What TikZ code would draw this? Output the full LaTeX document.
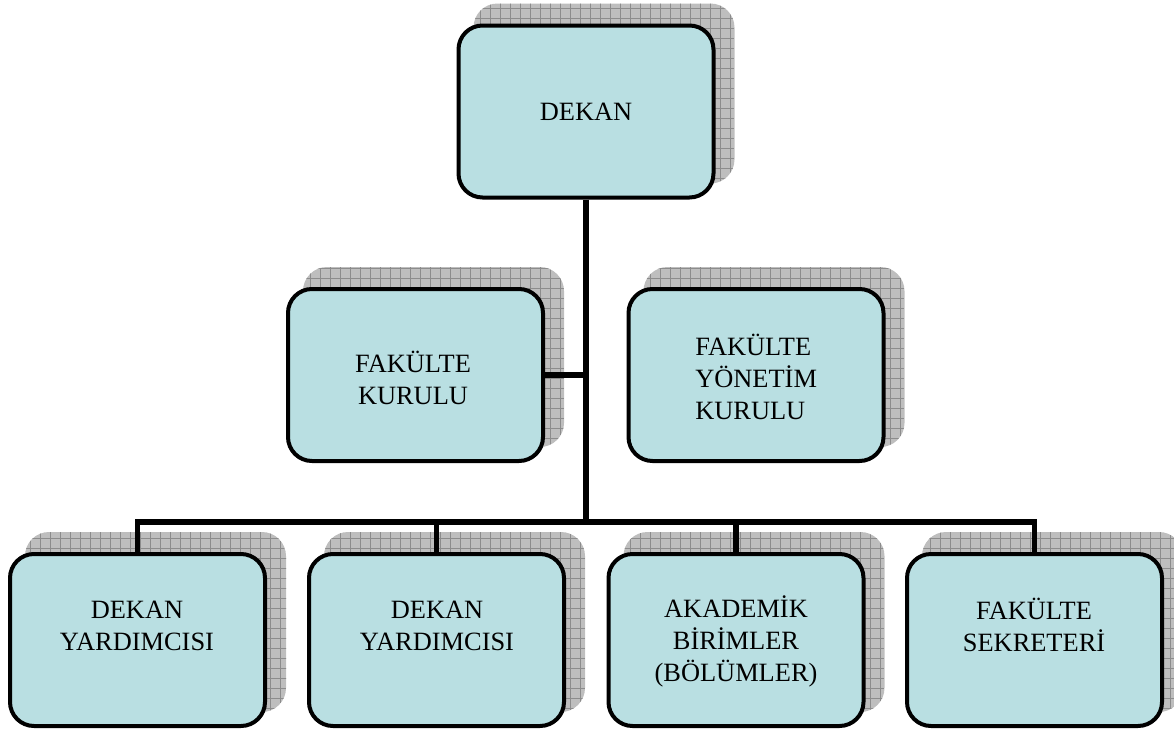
\documentclass[tikz,border=0pt]{standalone}
\usepackage{fontspec}
\setmainfont{Liberation Serif}
\usetikzlibrary{patterns.meta}
\definecolor{boxfill}{RGB}{185,223,226}
\definecolor{shadfill}{RGB}{190,190,190}
\definecolor{shadgrid}{RGB}{140,140,140}
\definecolor{lineshad}{RGB}{140,140,140}
\pgfdeclarelayer{shadowlayer}
\pgfdeclarelayer{linelayer}
\pgfsetlayers{shadowlayer,linelayer,main}
\newcommand{\boxshadow}[1]{%
  \begin{pgfonlayer}{shadowlayer}
    \fill[shadfill, rounded corners=18pt]
      ([xshift=12.75pt,yshift=12pt]#1.south west) rectangle ([xshift=14.25pt,yshift=15pt]#1.north east);
    \fill[pattern={Hatch[angle=0,distance=7.5pt,line width=0.5pt]}, pattern color=shadgrid, rounded corners=18pt]
      ([xshift=12.75pt,yshift=12pt]#1.south west) rectangle ([xshift=14.25pt,yshift=15pt]#1.north east);
  \end{pgfonlayer}}
\begin{document}
\begin{tikzpicture}[x=0.75pt,y=-0.75pt,
  orgbox/.style={draw=black, line width=3pt, fill=boxfill, rounded corners=18pt,
    minimum width=191.25pt, minimum height=129pt, inner sep=0pt},
  orgtext/.style={font=\fontsize{19.8}{24}\selectfont, align=center, inner sep=0pt, text=black},
  conn/.style={draw=black, line width=4.3pt},
  connshad/.style={draw=lineshad, line width=4.3pt, xshift=2.25pt, yshift=-2.25pt}]
\useasboundingbox (0,0) rectangle (1174,728);

% boxes
\node[orgbox] (dekan) at (586,111.5) {};
\node[orgbox] (fk) at (415.5,375) {};
\node[orgbox] (fyk) at (756,375) {};
\node[orgbox] (dy1) at (137.5,640) {};
\node[orgbox] (dy2) at (436.5,640) {};
\node[orgbox] (ab) at (736,640) {};
\node[orgbox] (fs) at (1034.5,640) {};

\foreach \n in {dekan,fk,fyk,dy1,dy2,ab,fs}{\boxshadow{\n}}

% texts
\node[orgtext] (dekant) at (586,112) {DEKAN};
\node[orgtext] (fkt) at (413,378) {FAKÜLTE\\KURULU};
\node[orgtext, align=left, anchor=west] (fykt) at (695,377) {FAKÜLTE\\YÖNETİM\\KURULU};
\node[orgtext] (dy1t) at (137,626) {DEKAN\\YARDIMCISI};
\node[orgtext] (dy2t) at (437,626) {DEKAN\\YARDIMCISI};
\node[orgtext] (abt) at (736,641) {AKADEMİK\\BİRİMLER\\(BÖLÜMLER)};
\node[orgtext] (fst) at (1034,625) {FAKÜLTE\\SEKRETERİ};

% connectors
\coordinate (bus) at (587,522);
\begin{pgfonlayer}{linelayer}
  \foreach \s in {connshad,conn}{
    \draw[\s] (dekan.south) -- (dekan.south |- bus);
    \draw[\s] (dy1.north) -- (dy1.north |- bus) -- (fs.north |- bus) -- (fs.north);
    \draw[\s] (dy2.north) -- (dy2.north |- bus);
    \draw[\s] (ab.north) -- (ab.north |- bus);
    \draw[\s] (fk.east) -- (fk.east -| dekan.south);
  }
\end{pgfonlayer}
\end{tikzpicture}
\end{document}
